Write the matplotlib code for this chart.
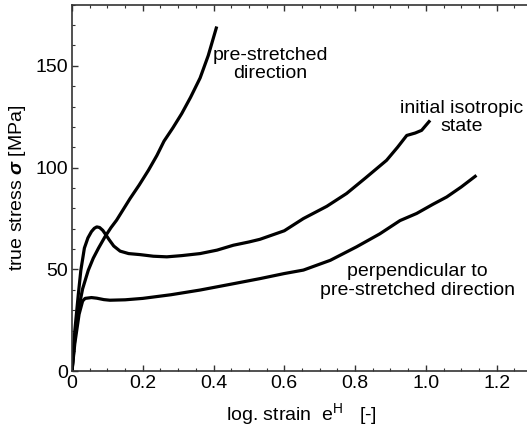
import matplotlib
matplotlib.use("Agg")
import matplotlib.pyplot as plt
from matplotlib.ticker import MultipleLocator

plt.rcParams['font.family'] = ['Liberation Sans', 'DejaVu Sans']
plt.rcParams['mathtext.fontset'] = 'custom'
plt.rcParams['mathtext.rm'] = 'Liberation Sans'
plt.rcParams['mathtext.it'] = 'Liberation Sans:italic'
plt.rcParams['mathtext.bf'] = 'Liberation Sans:bold'
plt.rcParams['mathtext.bfit'] = 'Liberation Sans:italic:bold'

# Stress-strain curves (log. strain, true stress in MPa)
iso_strain = [0, 0.008, 0.018, 0.025, 0.035, 0.045, 0.055, 0.063, 0.07, 0.078,
              0.087, 0.095, 0.105, 0.118, 0.136, 0.16, 0.192, 0.23, 0.268, 0.31,
              0.362, 0.41, 0.456, 0.5, 0.531, 0.6, 0.654, 0.72, 0.776, 0.83,
              0.889, 0.92, 0.946, 0.97, 0.988, 1.012]
iso_stress = [0, 20, 38, 49.6, 60.5, 65.5, 68.6, 70.2, 70.9, 70.6,
              69.2, 67.2, 64.6, 61.5, 59.0, 57.8, 57.3, 56.5, 56.2, 56.8,
              57.8, 59.5, 61.9, 63.5, 64.8, 69.0, 75.0, 81.0, 87.3, 95.0,
              103.6, 110.0, 115.8, 117.0, 118.3, 123.2]

pre_strain = [0, 0.008, 0.018, 0.03, 0.046, 0.06, 0.075, 0.093, 0.11, 0.126,
              0.145, 0.164, 0.19, 0.216, 0.24, 0.26, 0.285, 0.31, 0.335, 0.362,
              0.385, 0.409]
pre_stress = [0, 16, 30, 40.5, 49.6, 55.5, 60.5, 66.0, 70.5, 74.2,
              79.5, 84.8, 91.5, 98.7, 106.0, 113.0, 119.5, 126.5, 134.5, 144.0,
              155.0, 169.3]

perp_strain = [0, 0.008, 0.02, 0.03, 0.037, 0.055, 0.07, 0.09, 0.107, 0.15,
               0.2, 0.28, 0.362, 0.45, 0.531, 0.6, 0.654, 0.73, 0.804, 0.87,
               0.927, 0.974, 1.02, 1.059, 1.1, 1.143]
perp_stress = [0, 13.7, 28, 34.5, 35.8, 36.2, 35.9, 35.2, 34.9, 35.1,
               35.8, 37.6, 39.9, 42.8, 45.5, 48.0, 49.7, 54.5, 61.1, 67.5,
               74.0, 77.5, 82.0, 85.6, 90.5, 96.2]

curves = [(iso_strain, iso_stress), (pre_strain, pre_stress), (perp_strain, perp_stress)]

labels = ["pre-stretched\ndirection", "initial isotropic\nstate",
          "perpendicular to\npre-stretched direction"]
label_pos = [(0.56, 150.6), (1.10, 124.6), (0.976, 44.3)]

fs = 14

fig = plt.figure(figsize=(5.27, 4.32), dpi=100)
ax = fig.add_axes([72 / 527, 60.7 / 432, 460 / 527, 366.6 / 432])

for x, y in curves:
    ax.plot(x, y, color='black', lw=2.3, solid_joinstyle='round', solid_capstyle='butt')

for txt, (tx, ty) in zip(labels, label_pos):
    ax.text(tx, ty, txt, ha='center', va='center', fontsize=fs, linespacing=1.1)

ax.set_xlim(0, 1.3)
ax.set_ylim(0, 180)
ax.xaxis.set_minor_locator(MultipleLocator(0.05))
ax.yaxis.set_major_locator(MultipleLocator(50))
ax.yaxis.set_minor_locator(MultipleLocator(10))
ax.set_xticks([0, 0.2, 0.4, 0.6, 0.8, 1.0, 1.2])
ax.set_xticklabels(['0', '0.2', '0.4', '0.6', '0.8', '1.0', '1.2'])

ax.tick_params(which='both', direction='in', top=True, right=False, labelsize=fs,
               color='#333333', pad=3)
ax.tick_params(which='major', length=4, width=1)
ax.tick_params(which='minor', length=2.5, width=0.8)
for s in ax.spines.values():
    s.set_color('#333333')
    s.set_linewidth(1.2)

ax.set_xlabel(r'log. strain  e$^{\mathrm{H}}$   [-]', fontsize=fs)
ax.set_ylabel(r'true stress $\mathbfit{\sigma}$ [MPa]', fontsize=fs)
ax.xaxis.set_label_coords(0.4985, -0.08)
ax.yaxis.set_label_coords(-0.095, 0.5)

fig.savefig('out.png', dpi=100)
